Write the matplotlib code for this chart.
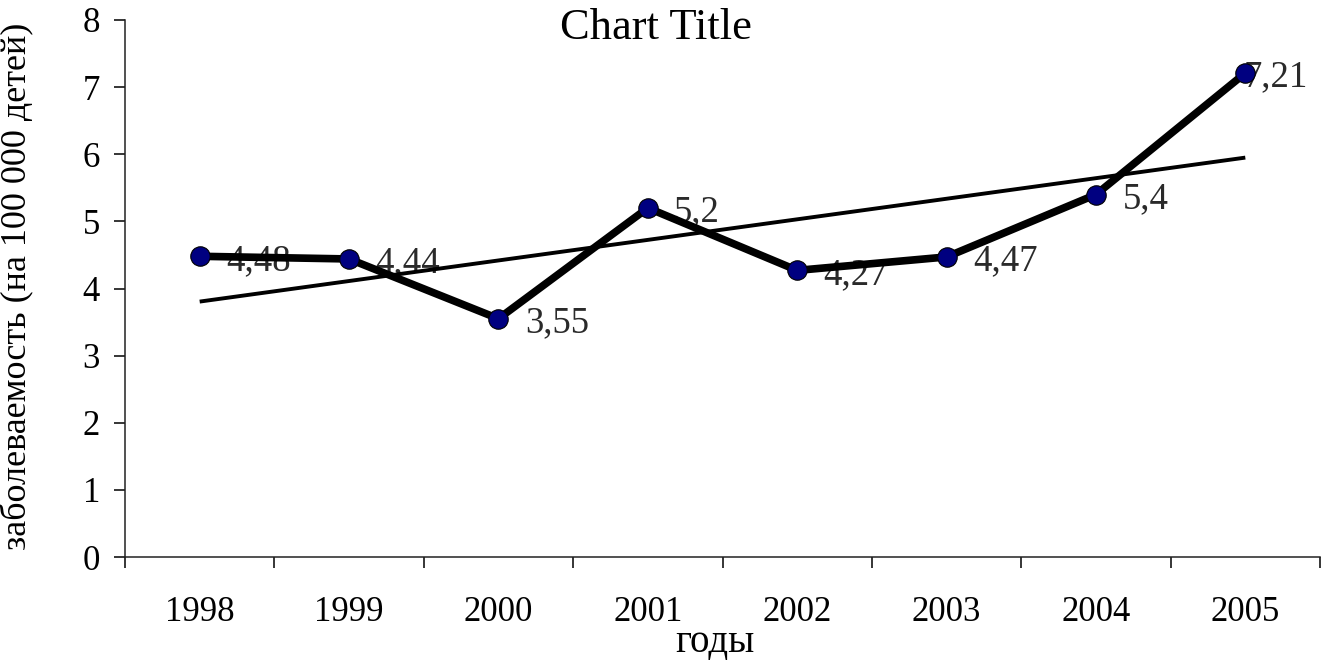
import numpy as np
import matplotlib
matplotlib.use("Agg")
import matplotlib.pyplot as plt

plt.rcParams['font.family'] = ['Liberation Serif', 'DejaVu Serif']

# data
years = ['1998', '1999', '2000', '2001', '2002', '2003', '2004', '2005']
rates = [4.48, 4.44, 3.55, 5.2, 4.27, 4.47, 5.4, 7.21]
labels = ['4,48', '4,44', '3,55', '5,2', '4,27', '4,47', '5,4', '7,21']

x = np.arange(1, len(years) + 1)

fig = plt.figure(figsize=(13.22, 6.61), dpi=100)
ax = fig.add_axes([125 / 1322, 104 / 661, 1195 / 1322, 537 / 661])

# linear trend line (least squares over the series)
k, b = np.polyfit(x, rates, 1)
ax.plot(x, k * x + b, color='black', lw=2.8, solid_capstyle='butt', zorder=2)

ax.plot(x, rates, color='black', lw=5.5, marker='o', markersize=14,
        markerfacecolor='#000080', markeredgecolor='black', markeredgewidth=0.8,
        zorder=3)

for i, (xi, yi, txt) in enumerate(zip(x, rates, labels)):
    dx = -1 if i == len(x) - 1 else 19
    ax.annotate(txt, (xi, yi), xytext=(dx, -3), textcoords='offset points',
                ha='left', va='center', fontsize=26.5, color='#2a2a2a', zorder=1)

ax.set_xlim(0.5, 8.5)
ax.set_ylim(0, 8)
ax.set_yticks(range(0, 9))
ax.set_xticks(x)
ax.set_xticklabels(years)
ax.set_xticks(np.arange(0.5, 9.0, 1.0), minor=True)

ax.tick_params(axis='x', which='major', length=0, pad=28, labelsize=25)
ax.tick_params(axis='x', which='minor', length=8, width=1.1, direction='out')
ax.tick_params(axis='y', which='major', length=8, width=1.1, direction='out',
               pad=10, labelsize=25)

for side in ['top', 'right']:
    ax.spines[side].set_visible(False)
for side in ['left', 'bottom']:
    ax.spines[side].set_linewidth(1.1)
    ax.spines[side].set_color('#222222')

ax.set_ylabel('заболеваемость (на 100 000 детей)', fontsize=26)
ax.yaxis.set_label_coords(-0.077, 0.505)
fig.text(715 / 1322, 1 - 643 / 661, 'годы', ha='center', va='center', fontsize=28)
fig.text(656 / 1322, 1 - 28 / 661, 'Chart Title', ha='center', va='center',
         fontsize=32)

fig.savefig('out.png', dpi=100)
